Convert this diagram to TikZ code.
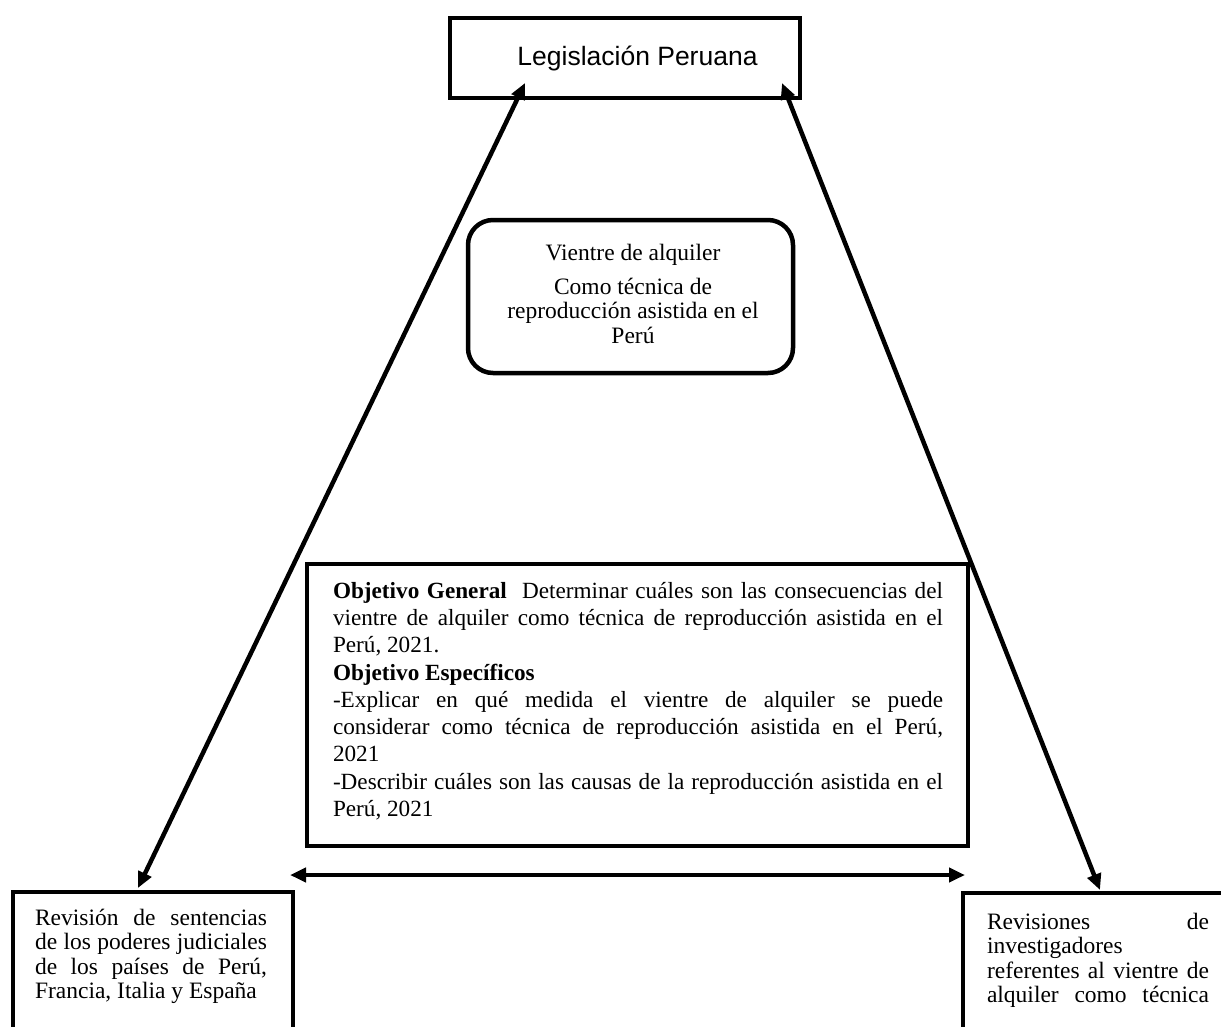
\documentclass[tikz,border=0pt]{standalone}
\usepackage{fontspec}
\setmainfont{Liberation Serif}
\newfontfamily\arialfont{Liberation Sans}
\usetikzlibrary{arrows.meta}
\newcommand{\loosejust}{\tolerance=9999 \hyphenpenalty=10000 \exhyphenpenalty=10000 }
\begin{document}
\begin{tikzpicture}[x=1pt,y=-1pt,
  box/.style={draw, line width=4.5pt, fill=white, inner sep=0pt, outer sep=0pt},
  conn/.style={line width=4.5pt, {Triangle[length=16pt,width=14pt]}-{Triangle[length=16pt,width=14pt]}},
  bodytext/.style={inner sep=0pt, outer sep=0pt, align=justify,
    font=\fontsize{23.5}{24.5}\selectfont},
  objtextstyle/.style={inner sep=0pt, outer sep=0pt, align=justify,
    font=\fontsize{23.2}{27.3}\selectfont}]
\useasboundingbox (0,0) rectangle (1221,1026);
\clip (0,0) rectangle (1221,1026);

% boxes
\node[box, minimum width=350, minimum height=80, anchor=north west] (leg) at (450,18) {};
\node[anchor=base, inner sep=0pt] (legtext) at (637.5,65)
  {\arialfont\fontsize{26.5}{30}\selectfont Legislación Peruana};

\node[box, rounded corners=25pt, minimum width=325, minimum height=153, anchor=north west] (vda) at (468,220) {};
\node[anchor=north, align=center, inner sep=0pt,
  font=\fontsize{23.5}{24.5}\selectfont] (vdatext) at (633,244)
  {Vientre de alquiler\\[9pt]Como técnica de\\reproducción asistida en el\\Perú};

\node[box, minimum width=661, minimum height=282, anchor=north west] (obj) at (307,564) {};
\node[objtextstyle, text width=610, anchor=north west] (objtext) at (333,582)
  {\loosejust\textbf{Objetivo General}\ \ Determinar cuáles son las consecuencias del\linebreak
   vientre de alquiler como técnica de reproducción asistida en el\linebreak
   Perú, 2021.\\
   \textbf{Objetivo Específicos}\\
   -Explicar en qué medida el vientre de alquiler se puede\linebreak
   considerar como técnica de reproducción asistida en el Perú,\linebreak
   2021\\
   -Describir cuáles son las causas de la reproducción asistida en el\linebreak
   Perú, 2021};

\node[box, minimum width=280, minimum height=200, anchor=north west] (rev) at (13,892) {};
\node[bodytext, text width=232, anchor=north west] (revtext) at (35,909)
  {\loosejust Revisión de sentencias\linebreak
   de los poderes judiciales\linebreak
   de los países de Perú,\linebreak
   Francia, Italia y España};

\node[box, minimum width=300, minimum height=200, anchor=north west] (inv) at (963,893) {};
\node[bodytext, text width=222, anchor=north west] (invtext) at (987,913)
  {\loosejust Revisiones\hfill de\\
   investigadores\\
   referentes al vientre de\linebreak
   \makebox[\linewidth][s]{alquiler como técnica}};

% connector end points
\coordinate (lt) at (525,83);
\coordinate (rt) at (782,83);
\coordinate (lb) at (138,888);
\coordinate (rb) at (1100,890);
\coordinate (hl) at (290,875);
\coordinate (hr) at (965,875);

\draw[conn] (lb) -- (lt);
\draw[conn] (rb) -- (rt);
\draw[conn] (hl) -- (hr);
\end{tikzpicture}
\end{document}
